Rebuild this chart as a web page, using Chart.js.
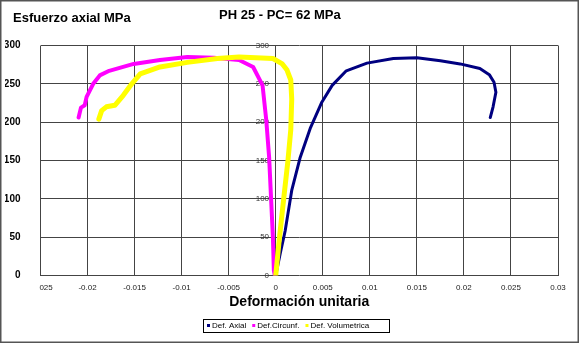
<!DOCTYPE html>
<html>
<head>
<meta charset="utf-8">
<script src="https://cdn.jsdelivr.net/npm/chart.js@4.4.1/dist/chart.umd.min.js"></script>
<style>
  html, body { margin: 0; padding: 0; background: #fff; }
</style>
</head>
<body>
<canvas id="chart-ph25" width="580" height="344"></canvas>
<script>
// PH 25 - PC= 62 MPa, esfuerzo vs deformacion
var axialStrain = [0, 0.0005, 0.001, 0.0017, 0.0026, 0.0037, 0.0049, 0.006, 0.0075, 0.0097, 0.0125, 0.015, 0.0175, 0.0196, 0.0217, 0.0227, 0.0232, 0.0234, 0.0231, 0.0228];
var axialStress = [0, 30, 58, 111, 154, 193, 226, 248, 267, 277, 283, 284, 280, 276, 270, 262, 252, 239, 220, 206];

var circStrain = [-0.0001, -0.0002, -0.0003, -0.0005, -0.0007, -0.001, -0.0014, -0.0024, -0.0039, -0.0066, -0.0094, -0.0123, -0.0151, -0.0177, -0.0187, -0.0194, -0.0201, -0.0203, -0.0207, -0.02095];
var circStress = [0, 7, 50, 102, 154, 202, 248, 272, 281, 284, 285, 281, 276, 267, 261, 250, 233, 222, 219, 206];

var volStrain = [0, 0.0004, 0.0009, 0.0013, 0.0016, 0.0017, 0.0016, 0.0012, 0.0007, -0.0003, -0.0039, -0.0062, -0.0094, -0.0123, -0.0144, -0.0153, -0.0162, -0.0171, -0.018, -0.0185, -0.0188];
var volStress = [0, 50, 106, 150, 190, 230, 255, 268, 276, 283, 285, 283, 278, 272, 263, 250, 235, 222, 220, 215, 204];

var xTickLabels = ['025', '-0.02', '-0.015', '-0.01', '-0.005', '0', '0.005', '0.01', '0.015', '0.02', '0.025', '0.03'];
var yTickLabels = ['0', '50', '100', '150', '200', '250', '300'];

var seriesLabels = ['Def. Axial', 'Def.Circunf.', 'Def. Volumetrica'];
var seriesColors = ['#000080', '#FF00FF', '#FFFF00'];

function toPoints(xs, ys) {
  return xs.map(function (x, i) { return { x: x, y: ys[i] }; });
}

var gridColor = '#444';

// title texts, outer frame and the boxed legend
var decorPlugin = {
  id: 'decor',
  afterDraw: function (chart) {
    var ctx = chart.ctx;
    ctx.save();
    ctx.strokeStyle = '#555';
    ctx.lineWidth = 1.5;
    ctx.strokeRect(0.75, 0.75, 577.5, 341.5);

    ctx.fillStyle = '#000';
    ctx.font = 'bold 13px "Liberation Sans", Arial, sans-serif';
    ctx.textBaseline = 'middle';
    ctx.textAlign = 'left';
    ctx.fillText('Esfuerzo axial MPa', 13, 18);
    ctx.fillText('PH 25 - PC= 62 MPa', 219, 15);

    // legend
    ctx.font = '8px "Liberation Sans", Arial, sans-serif';
    var x = 207;
    var y = 325.5;
    chart.data.datasets.forEach(function (ds) {
      ctx.fillStyle = ds.borderColor;
      ctx.fillRect(x, y - 1.5, 3, 3);
      ctx.fillStyle = '#000';
      ctx.fillText(ds.label, x + 5, y);
      x += 5 + ctx.measureText(ds.label).width + 6;
    });
    ctx.strokeStyle = '#000';
    ctx.lineWidth = 1;
    ctx.strokeRect(203.5, 319.5, 186, 13);
    ctx.restore();
  }
};

var ctx = document.getElementById('chart-ph25').getContext('2d');

var chart = new Chart(ctx, {
  type: 'scatter',
  data: {
    datasets: [{
      label: seriesLabels[0],
      data: toPoints(axialStrain, axialStress),
      borderColor: seriesColors[0],
      backgroundColor: seriesColors[0],
      borderWidth: 3,
      order: 2
    }, {
      label: seriesLabels[1],
      data: toPoints(circStrain, circStress),
      borderColor: seriesColors[1],
      backgroundColor: seriesColors[1],
      borderWidth: 4,
      order: 1
    }, {
      label: seriesLabels[2],
      data: toPoints(volStrain, volStress),
      borderColor: seriesColors[2],
      backgroundColor: seriesColors[2],
      borderWidth: 5,
      order: 0
    }]
  },
  options: {
    responsive: false,
    animation: false,
    showLine: true,
    elements: {
      point: { radius: 0 },
      line: { tension: 0, borderCapStyle: 'round', borderJoinStyle: 'round' }
    },
    layout: { padding: { top: 45.5, left: 5, right: 22, bottom: 20 } },
    plugins: {
      legend: { display: false },
      tooltip: { enabled: false }
    },
    scales: {
      x: {
        type: 'linear',
        min: -0.025,
        max: 0.03,
        afterFit: function (scale) { scale.height = 48.5; },
        grid: { color: gridColor, lineWidth: 1, drawTicks: false },
        border: { display: false },
        ticks: {
          stepSize: 0.005,
          autoSkip: false,
          maxRotation: 0,
          padding: 7,
          color: '#222',
          font: { family: '"Liberation Sans", Arial, sans-serif', size: 8 },
          callback: function (v, i) {
            // first label is cut on its left side in the original
            return i === 0 ? '     ' + xTickLabels[i] : xTickLabels[i];
          }
        },
        title: {
          display: true,
          text: 'Deformación unitaria',
          color: '#000',
          font: { family: '"Liberation Sans", Arial, sans-serif', size: 14, weight: 'bold' },
          padding: { top: 0, bottom: 13.6 }
        }
      },
      y: {
        type: 'linear',
        position: 'left',
        min: 0,
        max: 300,
        afterFit: function (scale) { scale.width = 35.5; },
        grid: { color: gridColor, lineWidth: 1, drawTicks: false },
        border: { display: false },
        ticks: {
          stepSize: 50,
          padding: 20,
          color: '#000',
          font: { family: '"Liberation Sans", Arial, sans-serif', size: 10, weight: 'bold' },
          callback: function (v, i) { return yTickLabels[i]; }
        }
      },
      y2: {
        type: 'linear',
        position: { x: 0 },
        min: 0,
        max: 300,
        grid: { display: false, drawTicks: false },
        border: { display: false },
        ticks: {
          stepSize: 50,
          padding: 6,
          color: '#333',
          font: { family: '"Liberation Sans", Arial, sans-serif', size: 8 },
          callback: function (v, i) { return yTickLabels[i] + '   '; }
        }
      }
    }
  },
  plugins: [decorPlugin]
});
</script>
</body>
</html>
